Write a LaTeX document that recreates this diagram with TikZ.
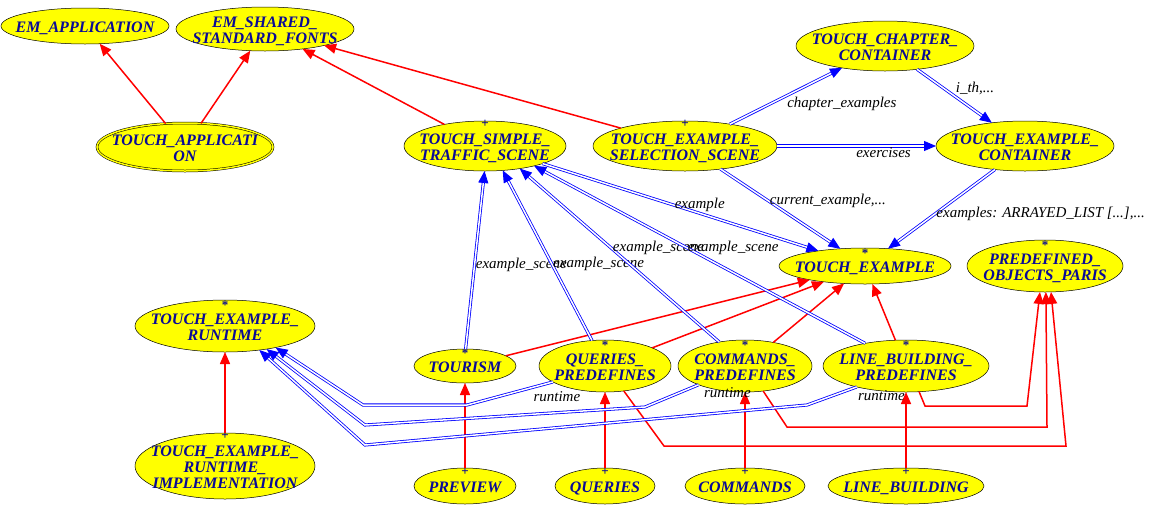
\documentclass[tikz,border=0pt]{standalone}
\usepackage{fontspec}
\setmainfont{Liberation Serif}
\usetikzlibrary{shapes.geometric,arrows.meta}
\definecolor{clsyellow}{RGB}{255,255,0}
\definecolor{clsblue}{RGB}{10,10,150}
\newcommand{\cls}[1]{\raisebox{-8pt}[0pt][0pt]{\makebox[0pt]{\begin{tabular}{@{}c@{}}#1\end{tabular}}}}
\newcommand{\clsmark}[2]{\raisebox{#2}[0pt][0pt]{\makebox[0pt]{\normalfont\bfseries\fontsize{13}{13}\selectfont #1}}\\[-16pt]}
\begin{document}
\begin{tikzpicture}[x=1pt,y=-1pt,
		cls/.style={ellipse, draw=black, fill=clsyellow, inner sep=0pt, outer sep=0pt, line width=0.5pt, text=clsblue, font=\fontsize{16}{16}\selectfont\bfseries\itshape},
		inh/.style={draw=red, line width=1.5pt, -{Triangle[length=12pt,width=10pt]}},
		cli/.style={draw=blue, double=white, line width=0.8pt, double distance=1.5pt, -{Triangle[length=12pt,width=10pt]}},
		lab/.style={font=\fontsize{15}{15}\selectfont\itshape, text=black, inner sep=1pt}]

	\useasboundingbox (0,0) rectangle (1153,504);

	% classes
	\node [cls, minimum width=168pt, minimum height=36pt] (emapp) at (85,26) {\cls{EM\_APPLICATION}};
	\node [cls, minimum width=178pt, minimum height=44pt] (emfonts) at (265,29) {\cls{EM\_SHARED\_\\STANDARD\_FONTS}};
	\node [cls, double=clsyellow, double distance=1.5pt, minimum width=176pt, minimum height=48pt] (tapp) at (185,147) {\cls{TOUCH\_APPLICATI\\ON}};
	\node [cls, minimum width=162pt, minimum height=50pt] (tsts) at (485,146) {\cls{\clsmark{+}{17pt}TOUCH\_SIMPLE\_\\TRAFFIC\_SCENE}};
	\node [cls, minimum width=184pt, minimum height=50pt] (tess) at (685,146) {\cls{\clsmark{+}{17pt}TOUCH\_EXAMPLE\_\\SELECTION\_SCENE}};
	\node [cls, minimum width=178pt, minimum height=50pt] (tcc) at (885,46) {\cls{TOUCH\_CHAPTER\_\\CONTAINER}};
	\node [cls, minimum width=178pt, minimum height=50pt] (tec) at (1025,146) {\cls{TOUCH\_EXAMPLE\_\\CONTAINER}};
	\node [cls, minimum width=172pt, minimum height=36pt] (tex) at (865,266) {\cls{\clsmark{*}{15pt}TOUCH\_EXAMPLE}};
	\node [cls, minimum width=156pt, minimum height=52pt] (pdo) at (1045,266) {\cls{\clsmark{*}{15pt}PREDEFINED\_\\OBJECTS\_PARIS}};
	\node [cls, minimum width=180pt, minimum height=52pt] (ter) at (225,326) {\cls{\clsmark{*}{15pt}TOUCH\_EXAMPLE\_\\RUNTIME}};
	\node [cls, minimum width=180pt, minimum height=66pt] (teri) at (225,466) {\cls{\clsmark{+}{17pt}TOUCH\_EXAMPLE\_\\RUNTIME\_\\IMPLEMENTATION}};
	\node [cls, minimum width=102pt, minimum height=34pt] (tourism) at (465,366) {\cls{\clsmark{*}{15pt}TOURISM}};
	\node [cls, minimum width=132pt, minimum height=52pt] (qpre) at (605,366) {\cls{\clsmark{*}{15pt}QUERIES\_\\PREDEFINES}};
	\node [cls, minimum width=134pt, minimum height=52pt] (cpre) at (745,366) {\cls{\clsmark{*}{15pt}COMMANDS\_\\PREDEFINES}};
	\node [cls, minimum width=166pt, minimum height=52pt] (lbpre) at (906,366) {\cls{\clsmark{*}{15pt}LINE\_BUILDING\_\\PREDEFINES}};
	\node [cls, minimum width=102pt, minimum height=36pt] (preview) at (465,486) {\cls{\clsmark{+}{17pt}PREVIEW}};
	\node [cls, minimum width=100pt, minimum height=36pt] (queries) at (605,486) {\cls{\clsmark{+}{17pt}QUERIES}};
	\node [cls, minimum width=120pt, minimum height=36pt] (commands) at (745,486) {\cls{\clsmark{+}{17pt}COMMANDS}};
	\node [cls, minimum width=156pt, minimum height=36pt] (lbuild) at (906,486) {\cls{\clsmark{+}{17pt}LINE\_BUILDING}};

	% inheritance
	\draw [inh] (tapp) -- (emapp);
	\draw [inh] (tapp) -- (emfonts);
	\draw [inh] (tsts) -- (emfonts);
	\draw [inh] (tess) -- (emfonts);
	\draw [inh] (teri) -- (ter);
	\draw [inh] (preview) -- (tourism);
	\draw [inh] (queries) -- (qpre);
	\draw [inh] (commands) -- (cpre);
	\draw [inh] (lbuild) -- (lbpre);
	\draw [inh] (tourism) -- (tex);
	\draw [inh] (qpre) -- (tex);
	\draw [inh] (cpre) -- (tex);
	\draw [inh] (lbpre) -- (tex);
	\draw [inh] (lbpre.-63) -- (925,406) -- (1027,406) -- (pdo.-101);
	\draw [inh] (cpre.-54) -- (787,427) -- (1047,427) -- (pdo.-88);
	\draw [inh] (qpre.-53) -- (664,446) -- (1066,446) -- (pdo.-77);

	% client links
	\draw [cli] (tess.26) -- node [lab, anchor=north west] {chapter\_examples} (tcc.-153);
	\draw [cli] (tcc.-36) -- node [lab, anchor=south west] {i\_th,...} (tec.145);
	\draw [cli] (tess.east) -- node [lab, anchor=north, pos=0.67] {exercises} (tec.west);
	\draw [cli] (tess.-33) -- node [lab, anchor=west, pos=0.4] {current\_example,...} (tex.145);
	\draw [cli] (tec.-142) -- node [lab, anchor=west, pos=0.56] {examples: ARRAYED\_LIST [...],...} (tex.37);
	\draw [cli] (tsts.-17) -- node [lab, anchor=south, pos=0.57] {example} (tex.162);
	\draw [cli] (tourism.88) -- node [lab, anchor=west, pos=0.47] {example\_scene} (tsts.-91);
	\draw [cli] (qpre.117) -- node [lab, anchor=west, pos=0.45] {example\_scene} (tsts.-54);
	\draw [cli] (cpre.137) -- node [lab, anchor=west, pos=0.54] {example\_scene} (tsts.-33);
	\draw [cli] (lbpre.151) -- node [lab, anchor=west, pos=0.54] {example\_scene} (tsts.-22);
	\draw [cli] (qpre.-163) -- node [lab, at start, anchor=north, xshift=4pt, yshift=-8pt] {runtime} (467,405) -- (363,405) -- (ter.-23);
	\draw [cli] (cpre.-158) -- node [lab, at start, anchor=north west, xshift=4pt, yshift=-1pt] {runtime} (645,407) -- (365,425) -- (ter.-29);
	\draw [cli] (lbpre.-157) -- node [lab, at start, anchor=north west, yshift=-2pt] {runtime} (807,405) -- (365,445) -- (ter.-35);

\end{tikzpicture}
\end{document}
